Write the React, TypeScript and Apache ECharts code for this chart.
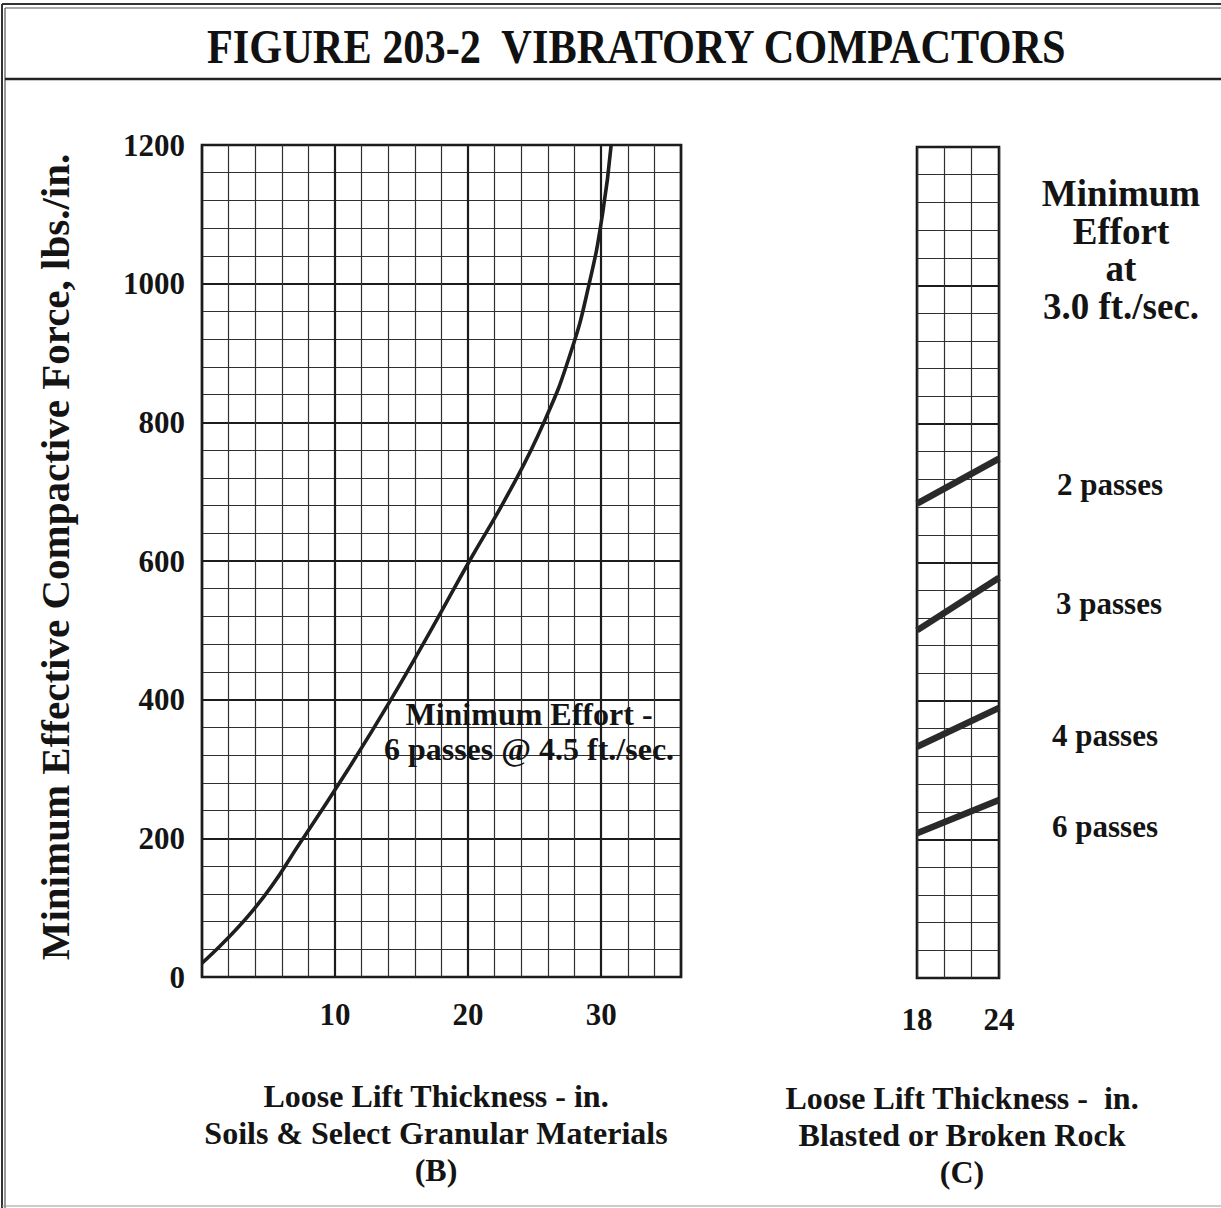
import React, { useEffect, useRef } from "react";
import * as echarts from "echarts";

const titleText = "FIGURE 203-2  VIBRATORY COMPACTORS";
const yAxisTitle = "Minimum Effective Compactive Force, lbs./in.";

// Chart (B): soils & select granular materials
const soilThickness = [0, 4.0, 7.6, 11.0, 14.2, 17.2, 20.1, 23.1, 25.7, 27.7, 29.1, 30.1, 30.75];
const soilForce = [20, 100, 200, 300, 400, 500, 600, 700, 800, 900, 1000, 1100, 1200];
const soilTickLabels = [10, 20, 30];
const soilCurveLabel = ["Minimum Effort -", "6 passes @ 4.5 ft./sec."];
const soilAxisTitle = ["Loose Lift Thickness - in.", "Soils & Select Granular Materials", "(B)"];

// Chart (C): blasted or broken rock
const rockThickness = [18, 24];
const rockPassNames = ["2 passes", "3 passes", "4 passes", "6 passes"];
const rockForce2 = [685, 750];
const rockForce3 = [502, 578];
const rockForce4 = [334, 390];
const rockForce6 = [209, 257];
const rockTickLabels = [18, 24];
const rockHeading = ["Minimum", "Effort", "at", "3.0 ft./sec."];
const rockAxisTitle = ["Loose Lift Thickness -  in.", "Blasted or Broken Rock", "(C)"];

const FONT = "'Liberation Serif', 'Times New Roman', serif";
const INK = "#141414";

export default function App() {
  const ref = useRef<HTMLDivElement>(null);
  useEffect(() => {
    if (!ref.current) return;
    const chart = echarts.init(ref.current, null, { renderer: "svg" });
    const majorLine = { show: true, lineStyle: { color: "#1c1c1c", width: 2.2 } };
    const minorLine = { show: true, lineStyle: { color: "#303030", width: 1.2 } };
    const tickLabel = { fontFamily: FONT, fontWeight: "bold", fontSize: 31, color: INK };
    const rockSeries = [rockForce2, rockForce3, rockForce4, rockForce6];
    const txt = (text: string, x: number, y: number, size: number, lineHeight?: number) => ({
      type: "text",
      x,
      y,
      silent: true,
      z: 100,
      style: {
        text,
        x: 0,
        y: 0,
        fill: INK,
        font: `bold ${size}px ${FONT}`,
        lineHeight: lineHeight ?? size,
        align: "center",
        verticalAlign: "middle",
      },
    });
    const passY = [484, 603, 735, 826];
    const passX = [1110, 1109, 1105, 1105];
    chart.setOption({
      animation: false,
      backgroundColor: "#ffffff",
      grid: [
        { left: 202, top: 145, width: 479, height: 832, show: true, borderColor: "#111", borderWidth: 2.6 },
        { left: 917, top: 147, width: 82, height: 831, show: true, borderColor: "#111", borderWidth: 2.6 },
      ],
      xAxis: [
        {
          gridIndex: 0,
          type: "value",
          min: 0,
          max: 36,
          interval: 10,
          axisLine: { show: false },
          axisTick: { show: false },
          axisLabel: {
            ...tickLabel,
            margin: 22,
            formatter: (v: number) => (soilTickLabels.includes(v) ? String(v) : ""),
          },
          splitLine: majorLine,
          minorTick: { show: false, splitNumber: 5 },
          minorSplitLine: minorLine,
        },
        {
          gridIndex: 1,
          type: "value",
          min: 18,
          max: 24,
          interval: 2,
          axisLine: { show: false },
          axisTick: { show: false },
          axisLabel: {
            ...tickLabel,
            margin: 26,
            formatter: (v: number) => (rockTickLabels.includes(v) ? String(v) : ""),
          },
          splitLine: minorLine,
        },
      ],
      yAxis: [
        {
          gridIndex: 0,
          type: "value",
          min: 0,
          max: 1200,
          interval: 200,
          axisLine: { show: false },
          axisTick: { show: false },
          axisLabel: { ...tickLabel, margin: 17, formatter: (v: number) => String(v) },
          splitLine: majorLine,
          minorTick: { show: false, splitNumber: 5 },
          minorSplitLine: minorLine,
        },
        {
          gridIndex: 1,
          type: "value",
          min: 0,
          max: 1200,
          interval: 200,
          axisLine: { show: false },
          axisTick: { show: false },
          axisLabel: { show: false },
          splitLine: majorLine,
          minorTick: { show: false, splitNumber: 5 },
          minorSplitLine: minorLine,
        },
      ],
      series: [
        {
          type: "line",
          xAxisIndex: 0,
          yAxisIndex: 0,
          data: soilThickness.map((t, i) => [t, soilForce[i]]),
          smooth: 0.5,
          showSymbol: false,
          lineStyle: { color: "#1e1e1e", width: 3.6 },
          z: 10,
        },
        ...rockSeries.map((vals, k) => ({
          type: "line",
          name: rockPassNames[k],
          xAxisIndex: 1,
          yAxisIndex: 1,
          data: rockThickness.map((t, i) => [t, vals[i]]),
          showSymbol: false,
          lineStyle: { color: "#2a2a2a", width: 6.5 },
          z: 10,
        })),
      ],
      graphic: [
        // outer frame
        { type: "line", silent: true, shape: { x1: 2, y1: 4, x2: 1221, y2: 4 }, style: { stroke: "#333", lineWidth: 2 } },
        { type: "line", silent: true, shape: { x1: 5, y1: 8, x2: 1221, y2: 8 }, style: { stroke: "#555", lineWidth: 1.2 } },
        { type: "line", silent: true, shape: { x1: 2, y1: 4, x2: 2, y2: 1208 }, style: { stroke: "#333", lineWidth: 2 } },
        { type: "line", silent: true, shape: { x1: 5, y1: 8, x2: 5, y2: 1208 }, style: { stroke: "#555", lineWidth: 1.2 } },
        { type: "line", silent: true, shape: { x1: 5, y1: 79, x2: 1221, y2: 79 }, style: { stroke: "#222", lineWidth: 2.5 } },
        { type: "line", silent: true, shape: { x1: 2, y1: 1206, x2: 1221, y2: 1206 }, style: { stroke: "#999", lineWidth: 1 } },
        // title
        {
          type: "text",
          x: 207,
          y: 47,
          scaleX: 0.882,
          silent: true,
          style: {
            text: titleText,
            x: 0,
            y: 0,
            fill: "#111",
            font: `bold 48px ${FONT}`,
            align: "left",
            verticalAlign: "middle",
          },
        },
        // y axis title
        {
          type: "text",
          x: 55,
          y: 557,
          rotation: Math.PI / 2,
          silent: true,
          style: {
            text: yAxisTitle,
            x: 0,
            y: 0,
            fill: INK,
            font: `bold 41px ${FONT}`,
            align: "center",
            verticalAlign: "middle",
          },
        },
        txt(soilCurveLabel.join("\n"), 529, 731, 32, 35),
        txt(soilAxisTitle.join("\n"), 436, 1133, 32, 37),
        txt(rockAxisTitle.join("\n"), 962, 1135, 32, 37),
        txt(rockHeading.join("\n"), 1121, 250, 37, 37.5),
        ...rockPassNames.map((s, i) => txt(s, passX[i], passY[i], 31)),
      ],
    });
    return () => chart.dispose();
  }, []);
  return (
    <div
      ref={ref}
      style={{ position: "fixed", left: 0, top: 0, width: 1221, height: 1208, background: "#fff" }}
    />
  );
}
